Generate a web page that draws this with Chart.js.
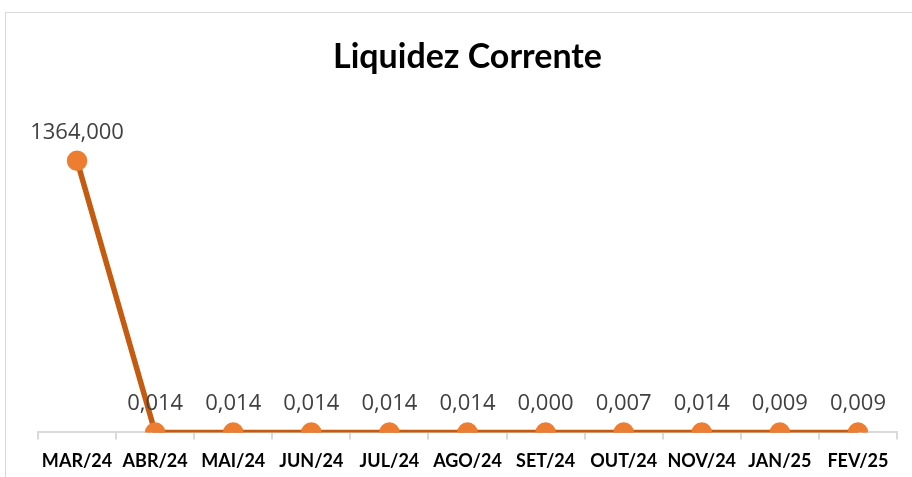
<!DOCTYPE html>
<html>
<head>
<meta charset="utf-8">
<script src="https://cdn.jsdelivr.net/npm/chart.js@4/dist/chart.umd.min.js"></script>
<style>
    html, body { margin: 0; padding: 0; background: #fff; }
    #wrap { position: relative; width: 912px; height: 477px; overflow: hidden; }
    #frame { position: absolute; left: 5px; top: 12px; width: 940px; height: 500px; border: 1px solid #d9d9d9; box-sizing: border-box; }
    canvas { position: absolute; left: 0; top: 0; }
</style>
</head>
<body>
<div id="wrap">
    <div id="frame"></div>
    <canvas id="myChart" width="912" height="483"></canvas>
</div>
<script>
const months = ['MAR/24', 'ABR/24', 'MAI/24', 'JUN/24', 'JUL/24', 'AGO/24', 'SET/24', 'OUT/24', 'NOV/24', 'JAN/25', 'FEV/25'];
const liquidez = [1364, 0.014, 0.014, 0.014, 0.014, 0.014, 0.000, 0.007, 0.014, 0.009, 0.009];

// labels above each point, pt-br number format
const valueLabels = {
    id: 'valueLabels',
    afterDatasetsDraw(chart) {
        const ctx = chart.ctx;
        const meta = chart.getDatasetMeta(0);
        ctx.save();
        ctx.font = '22px "Open Sans", sans-serif';
        ctx.fillStyle = '#404040';
        ctx.textAlign = 'center';
        ctx.textBaseline = 'alphabetic';
        meta.data.forEach((pt, i) => {
            const txt = liquidez[i].toFixed(3).replace('.', ',');
            ctx.fillText(txt, pt.x, pt.y - 22);
        });
        ctx.restore();
    }
};

let ctx = document.getElementById('myChart').getContext('2d');
let chart = new Chart(ctx, {
    type: 'line',
    data: {
        labels: months,
        datasets: [{
            data: liquidez,
            borderColor: '#c55a11',
            borderWidth: 5.5,
            pointBackgroundColor: '#ed7d31',
            pointBorderColor: '#ed7d31',
            pointRadius: 7.5,
            tension: 0
        }]
    },
    options: {
        responsive: false,
        animation: false,
        events: [],
        layout: { padding: { left: 38, right: 15, top: 0, bottom: 0 } },
        plugins: {
            legend: { display: false },
            tooltip: { enabled: false },
            title: {
                display: true,
                text: 'Liquidez Corrente',
                color: '#000',
                font: { family: 'Lato, sans-serif', size: 34, weight: 'bold' },
                padding: { top: 37, bottom: 36 }
            }
        },
        scales: {
            x: {
                offset: true,
                grid: { display: true, drawOnChartArea: false, offset: true, color: '#d9d9d9', lineWidth: 2, tickLength: 7 },
                border: { color: '#d9d9d9', width: 2 },
                ticks: {
                    color: '#000',
                    font: { family: 'Lato, sans-serif', size: 18, weight: 'bold' },
                    maxRotation: 0,
                    autoSkip: false,
                    padding: 11
                }
            },
            y: {
                display: false,
                min: 0,
                max: 1600
            }
        }
    },
    plugins: [valueLabels]
});
</script>
</body>
</html>
